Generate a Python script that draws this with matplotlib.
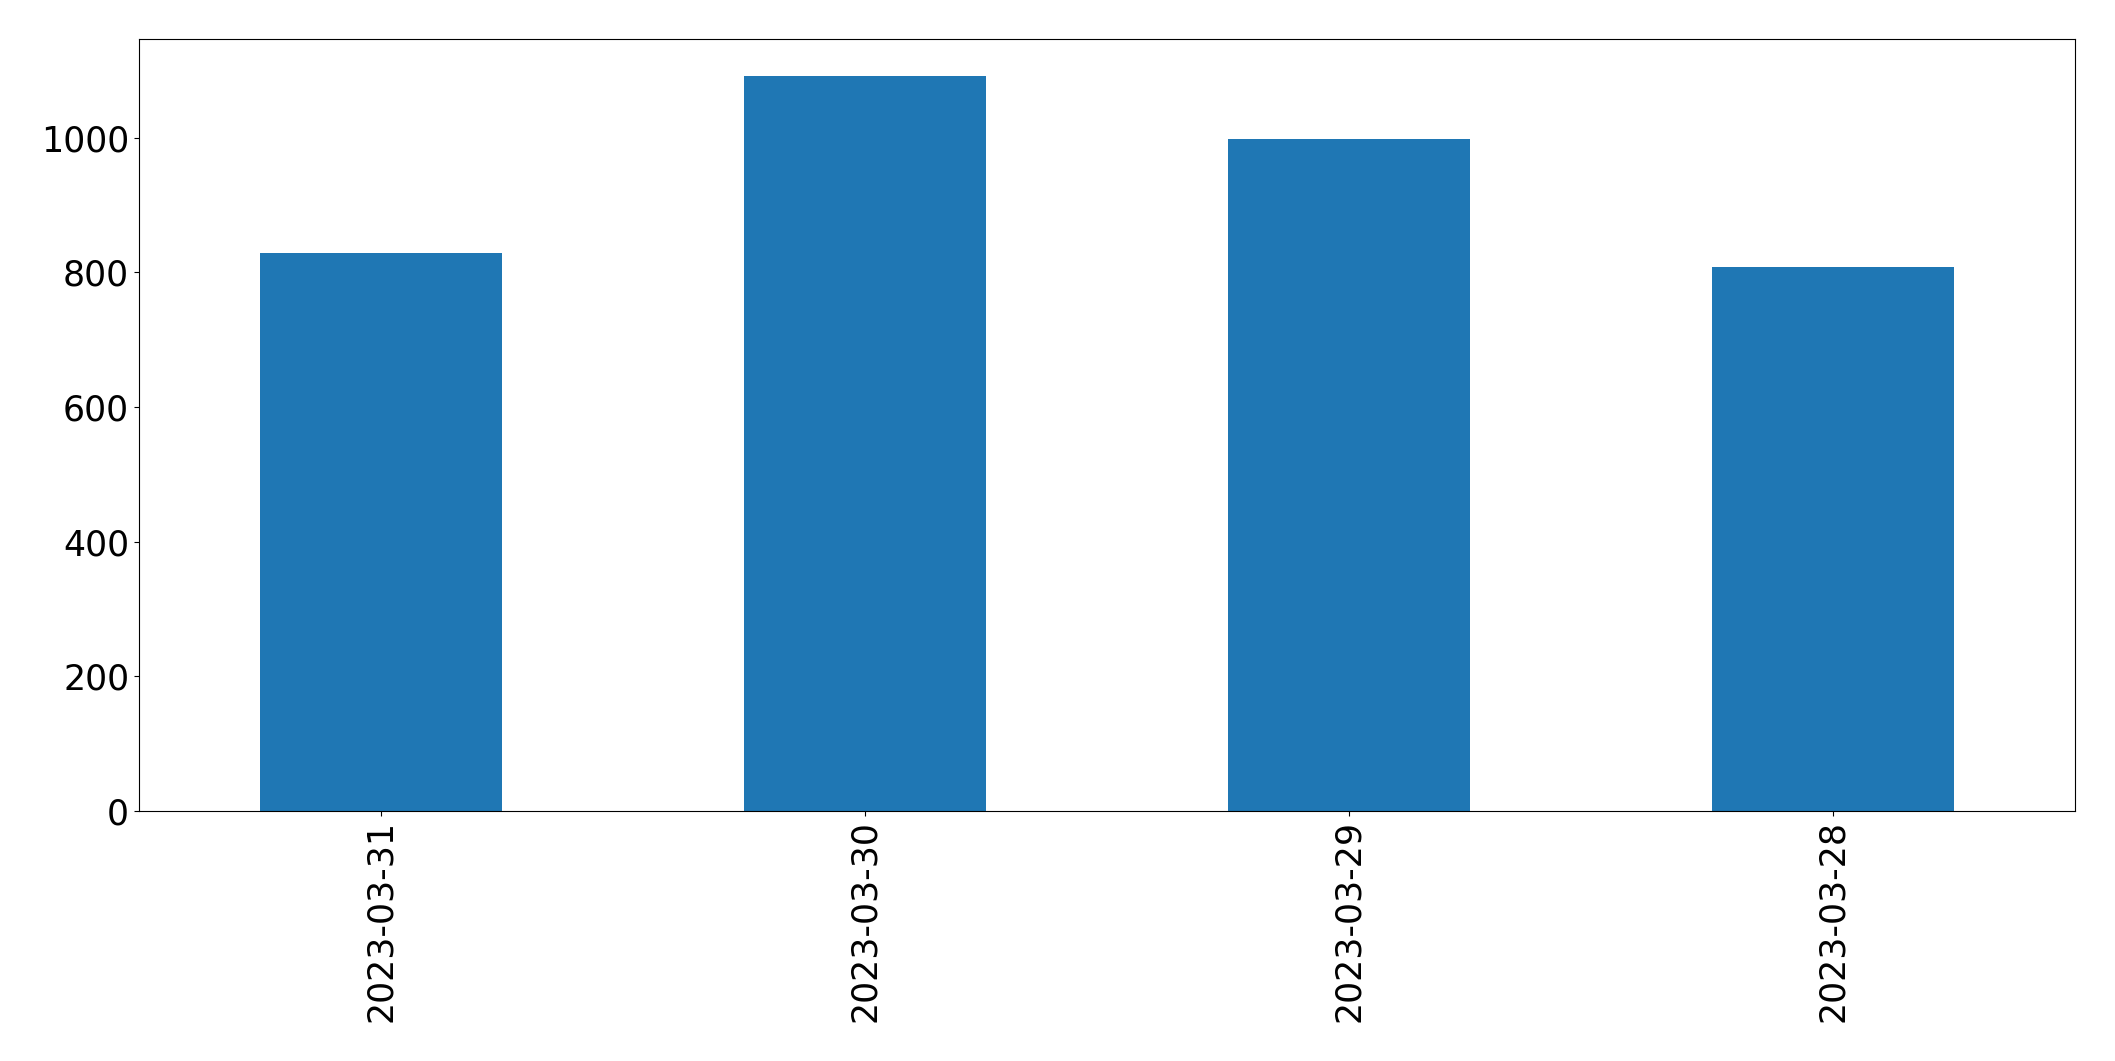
import matplotlib
matplotlib.use('Agg')
import matplotlib.pyplot as plt
import numpy as np

# Daily counts
dates = ['2023-03-31', '2023-03-30', '2023-03-29', '2023-03-28']
counts = [829, 1092, 999, 808]

fig, ax = plt.subplots(figsize=(21.15, 10.61), dpi=100)
fig.subplots_adjust(left=0.0657, right=0.981, top=0.963, bottom=0.236)

x = np.arange(len(dates))
ax.bar(x, counts, width=0.5, color='#1f77b4')
ax.set_xticks(x)
ax.set_xticklabels(dates, rotation=90)
ax.set_xlim(-0.5, len(dates) - 0.5)
ax.tick_params(axis='both', labelsize=25)

fig.savefig('out.png', dpi=100)
